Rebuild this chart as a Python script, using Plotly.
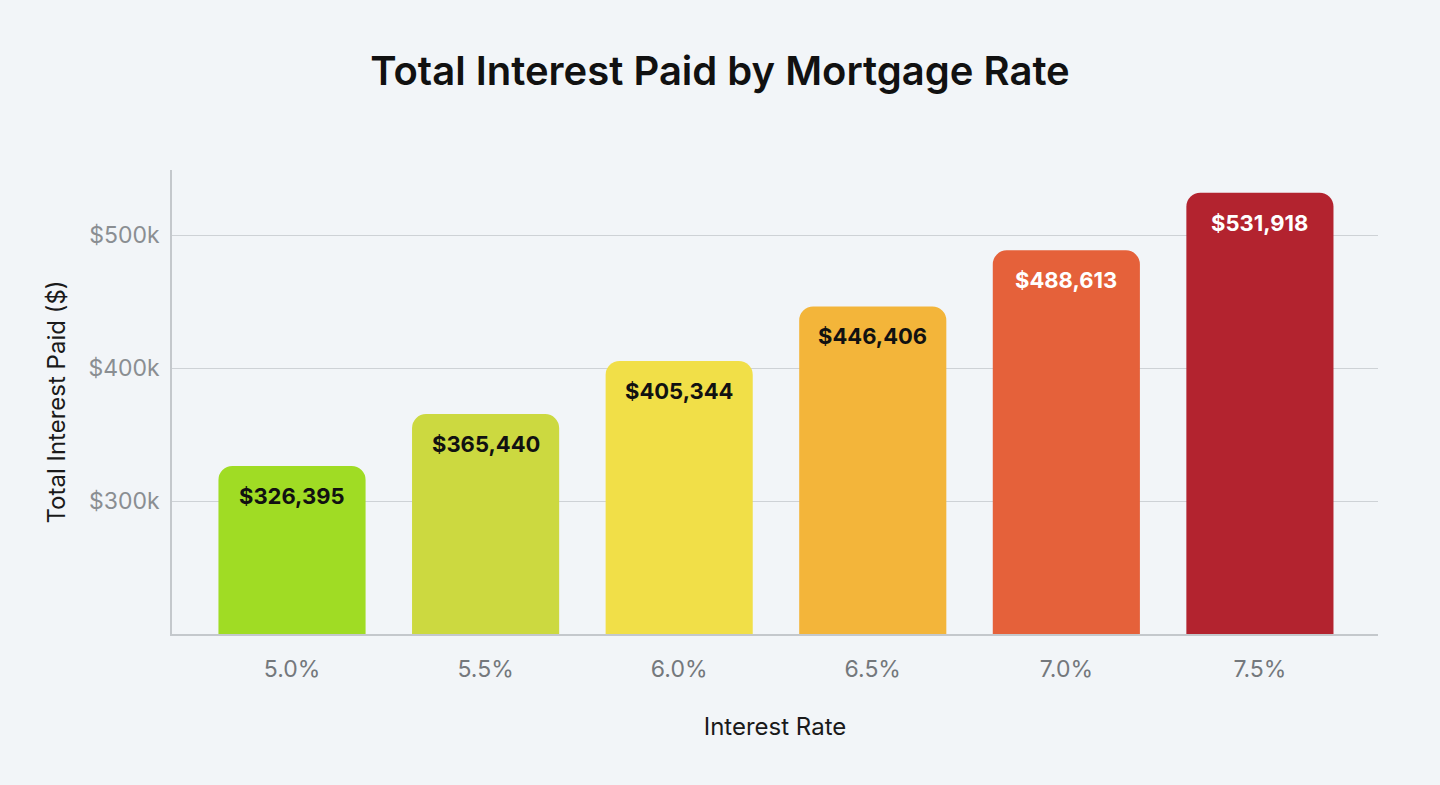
import plotly.graph_objects as go

# data
rates = ["5.0%", "5.5%", "6.0%", "6.5%", "7.0%", "7.5%"]
interest = [326395, 365440, 405344, 446406, 488613, 531918]
bar_colors = ["#A0DC24", "#CCD940", "#F1DF48", "#F3B53A", "#E5613A", "#B3232F"]
label_colors = ["#111111", "#111111", "#111111", "#111111", "#FFFFFF", "#FFFFFF"]
y_ticks = [300000, 400000, 500000]
y_tick_text = ["$300k", "$400k", "$500k"]

FONT = "Inter"
BG = "#F2F5F8"

fig = go.Figure(
    go.Bar(
        x=rates, y=interest,
        marker=dict(color=bar_colors, cornerradius=14, line=dict(width=0)),
        width=0.76,
        hoverinfo="skip",
    )
)

# value labels sit just inside the top of each bar
for r, v, c in zip(rates, interest, label_colors):
    fig.add_annotation(
        x=r, y=v, text=f"${v:,}", showarrow=False,
        yanchor="top", yshift=-15,
        font=dict(family=FONT, size=22, weight=700, color=c),
    )

fig.update_layout(
    width=1440, height=785,
    paper_bgcolor=BG, plot_bgcolor=BG,
    margin=dict(l=172, r=62, t=170, b=151),
    title=dict(
        text="Total Interest Paid by Mortgage Rate",
        x=0.5, xanchor="center", y=0.91, yanchor="middle",
        font=dict(family=FONT, size=40, weight=600, color="#111111"),
    ),
    font=dict(family=FONT),
    showlegend=False,
    xaxis=dict(
        range=[-0.62, 5.61],
        showline=True, linecolor="#C4C8CC", linewidth=1.5,
        showgrid=False, ticks="", ticklabelstandoff=14,
        tickfont=dict(size=23, color="#74787C"),
        title=dict(text="Interest Rate", font=dict(size=24, color="#1A1A1A"), standoff=36),
    ),
    yaxis=dict(
        range=[200000, 549000],
        tickvals=y_ticks, ticktext=y_tick_text,
        showline=True, linecolor="#C4C8CC", linewidth=1.5,
        showgrid=True, gridcolor="#CED2D6", gridwidth=1,
        zeroline=False, ticks="", ticklabelstandoff=6,
        tickfont=dict(size=23, color="#8A8E92"),
        title=dict(text="Total Interest Paid ($)", font=dict(size=24, color="#1A1A1A"), standoff=16),
    ),
)

fig.write_html(
    "out.html",
    config={"displayModeBar": False},
    post_script="document.body.style.margin='0';document.body.style.background='%s';" % BG,
)
